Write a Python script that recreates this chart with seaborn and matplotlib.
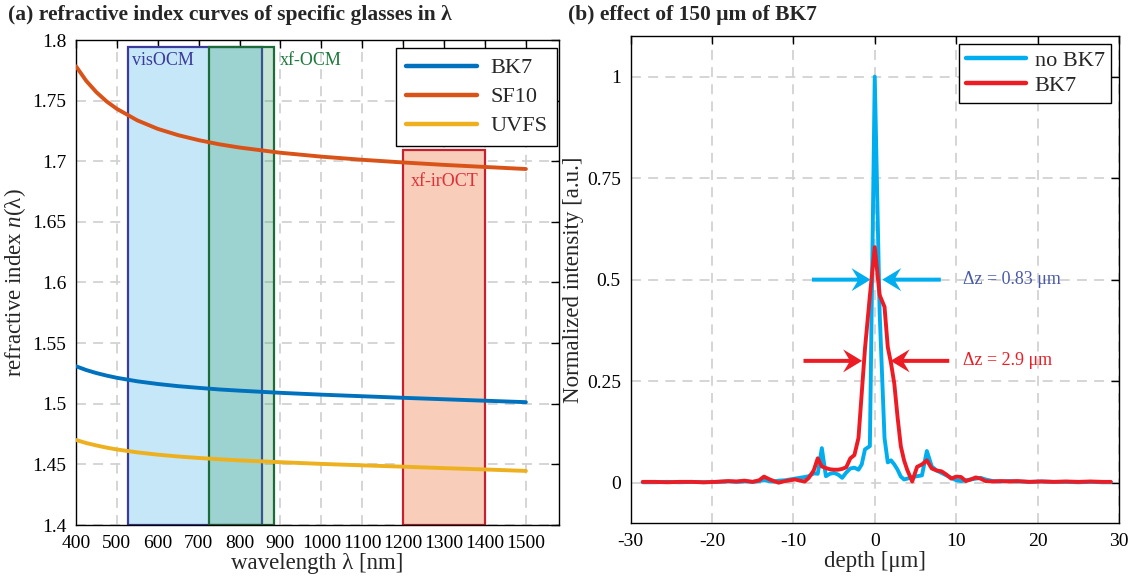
import numpy as np
import pandas as pd
import matplotlib
matplotlib.use("Agg")
import matplotlib.pyplot as plt
import seaborn as sns
from matplotlib.patches import Rectangle, FancyArrow
from matplotlib.transforms import ScaledTranslation
from matplotlib.lines import Line2D

# ---------------- data: refractive index vs wavelength ----------------
wavelength_nm = [400, 425, 450, 475, 500, 550, 600, 650, 700, 750, 800,
                 900, 1000, 1100, 1200, 1300, 1400, 1500]
n_bk7 = [1.5309, 1.5278, 1.5253, 1.5232, 1.5214, 1.5185, 1.5163, 1.5145,
         1.5131, 1.5118, 1.5108, 1.5090, 1.5075, 1.5062, 1.5049, 1.5037,
         1.5025, 1.5013]
n_sf10 = [1.7783, 1.7663, 1.7569, 1.7493, 1.7432, 1.7337, 1.7267, 1.7215,
          1.7174, 1.7140, 1.7113, 1.7070, 1.7038, 1.7012, 1.6990, 1.6970,
          1.6953, 1.6936]
n_uvfs = [1.4701, 1.4676, 1.4656, 1.4638, 1.4623, 1.4599, 1.4580, 1.4565,
          1.4553, 1.4542, 1.4533, 1.4518, 1.4504, 1.4492, 1.4481, 1.4469,
          1.4458, 1.4446]

# spectral bands of the imaging systems (nm) and their heights
band_names = ["visOCM", "xf-OCM", "xf-irOCT"]
band_start = [526, 724, 1200]
band_stop = [854, 885, 1400]
band_top = [1.794, 1.794, 1.709]

# ---------------- data: axial point spread functions ----------------
depth_um = [-28.5, -27, -25.5, -24, -22.5, -21, -19.5, -18, -17, -16, -15,
            -14.2, -13.6, -13, -12.4, -11.8, -11, -10.4, -9.8, -9.2, -8.6,
            -8.1, -7.5, -7.0, -6.5, -6.0, -5.5, -5.0, -4.5, -4.0, -3.5,
            -3.0, -2.5, -2.0, -1.6, -1.2, -0.6, 0.0, 0.6, 1.2, 1.6, 2.0,
            2.4, 2.8, 3.2, 3.6, 4.0, 4.6, 5.2, 5.8, 6.4, 7.0, 7.6, 8.2,
            8.8, 9.4, 10.0, 10.6, 11.2, 11.8, 12.4, 13.0, 13.6, 14.5, 15.5,
            16.5, 17.5, 19, 20.5, 22, 23.5, 25, 26.5, 28, 29]
psf_no_bk7 = [0.001, 0.001, 0.002, 0.001, 0.002, 0.001, 0.002, 0.003, 0.002,
              0.003, 0.002, 0.004, 0.006, 0.004, 0.003, 0.005, 0.006, 0.008,
              0.010, 0.012, 0.014, 0.016, 0.023, 0.022, 0.085, 0.016, 0.022,
              0.024, 0.020, 0.012, 0.025, 0.035, 0.037, 0.032, 0.045, 0.082,
              0.090, 1.000, 0.420, 0.110, 0.050, 0.055, 0.045, 0.032, 0.015,
              0.008, 0.010, 0.014, 0.016, 0.018, 0.078, 0.040, 0.030, 0.024,
              0.018, 0.012, 0.006, 0.004, 0.006, 0.008, 0.010, 0.012, 0.008,
              0.004, 0.003, 0.004, 0.003, 0.002, 0.003, 0.002, 0.002, 0.001,
              0.002, 0.001, 0.001]
psf_bk7 = [0.002, 0.002, 0.001, 0.002, 0.002, 0.001, 0.002, 0.004, 0.003,
           0.005, 0.002, 0.006, 0.015, 0.009, 0.004, 0.000, 0.004, 0.006,
           0.008, 0.005, 0.003, 0.012, 0.030, 0.060, 0.040, 0.036, 0.033,
           0.032, 0.032, 0.034, 0.038, 0.060, 0.068, 0.110, 0.220, 0.330,
           0.460, 0.580, 0.462, 0.433, 0.334, 0.294, 0.244, 0.162, 0.090,
           0.055, 0.031, 0.003, 0.039, 0.045, 0.055, 0.035, 0.030, 0.028,
           0.020, 0.010, 0.015, 0.014, 0.004, 0.008, 0.013, 0.010, 0.004,
           0.003, 0.004, 0.003, 0.004, 0.002, 0.003, 0.002, 0.003, 0.002,
           0.003, 0.002, 0.002]

# axial resolutions (FWHM, um) and the level at which each is marked
fwhm_labels = ["Δz = 0.83 μm", "Δz = 2.9 μm"]
fwhm_um = [0.83, 2.9]
fwhm_level = [0.5, 0.3]

# ---------------- style ----------------
sns.set_theme(style="white")
plt.rcParams["font.family"] = ["Liberation Serif", "DejaVu Serif"]
plt.rcParams["mathtext.fontset"] = "custom"
plt.rcParams["mathtext.rm"] = "Liberation Serif"
plt.rcParams["mathtext.it"] = "Liberation Serif:italic"
plt.rcParams["axes.edgecolor"] = "black"
plt.rcParams["axes.linewidth"] = 1.0
plt.rcParams["axes.unicode_minus"] = False

c_bk7, c_sf10, c_uvfs = "#0072BD", "#D95319", "#EDB120"
c_cyan, c_red = "#00AEEF", "#ED1C24"
grid_kw = dict(color="#d2d2d2", linestyle=(0, (5.5, 4)), linewidth=1.3)

fig = plt.figure(figsize=(11.31, 5.81), dpi=100)
axL = fig.add_axes([76 / 1131, 56 / 581, 482.6 / 1131, 485 / 581])
axR = fig.add_axes([630.5 / 1131, 57.7 / 581, 488.5 / 1131, 487.3 / 581])

for ax in (axL, axR):
    ax.set_axisbelow(True)
    ax.grid(True, **grid_kw)
    ax.tick_params(direction="in", length=6, width=1, top=True, right=True,
                   labelsize=14, colors="black", pad=7)

# ---------- panel (a) ----------
df_n = pd.DataFrame({"wavelength": wavelength_nm * 3,
                     "n": n_bk7 + n_sf10 + n_uvfs,
                     "glass": ["BK7"] * len(wavelength_nm)
                     + ["SF10"] * len(wavelength_nm)
                     + ["UVFS"] * len(wavelength_nm)})

band_face = ["#c6e7f8", (0.18, 0.62, 0.42, 0.27), "#f8cdb9"]
band_edge = ["#3b3b9b", "#1e6b3a", "#c8202f"]
band_text = ["#3b3b9b", "#1e7a3c", "#e0303a"]
for i, name in enumerate(band_names):
    axL.add_patch(Rectangle((band_start[i], 1.4), band_stop[i] - band_start[i],
                            band_top[i] - 1.4, facecolor=band_face[i],
                            edgecolor=band_edge[i], linewidth=1.6, zorder=1))
axL.text(band_start[0] + 10, 1.783, band_names[0], color=band_text[0],
         fontsize=13, va="center", ha="left", zorder=5)
axL.text(band_stop[1] + 14, 1.783, band_names[1], color=band_text[1],
         fontsize=13, va="center", ha="left", zorder=5)
axL.text(band_start[2] + 18, 1.683, band_names[2], color=band_text[2],
         fontsize=13, va="center", ha="left", zorder=5)

sns.lineplot(data=df_n, x="wavelength", y="n", hue="glass",
             palette=[c_bk7, c_sf10, c_uvfs], linewidth=2.8, ax=axL,
             legend=False, zorder=4)

axL.set_xlim(400, 1580)
axL.set_ylim(1.4, 1.8)
axL.set_xticks(np.arange(400, 1501, 100))
yt = [1.4, 1.45, 1.5, 1.55, 1.6, 1.65, 1.7, 1.75, 1.8]
axL.set_yticks(yt)
axL.set_yticklabels(["1.4", "1.45", "1.5", "1.55", "1.6", "1.65", "1.7",
                     "1.75", "1.8"])
axL.set_xlabel("wavelength λ [nm]", fontsize=16.5, labelpad=1)
axL.set_ylabel("refractive index $n$(λ)", fontsize=16.5, labelpad=3)

legL = axL.legend(handles=[Line2D([], [], color=c, lw=3.2) for c in
                           (c_bk7, c_sf10, c_uvfs)],
                  labels=["BK7", "SF10", "UVFS"], loc="upper right",
                  bbox_to_anchor=(0.997, 0.984), borderaxespad=0,
                  fontsize=16, handlelength=3.2, labelspacing=0.38,
                  fancybox=False, framealpha=1, edgecolor="black",
                  borderpad=0.45, handletextpad=0.6)
legL.get_frame().set_linewidth(1.0)
legL.set_zorder(10)

# ---------- panel (b) ----------
df_psf = pd.DataFrame({"depth": depth_um * 2,
                       "intensity": psf_no_bk7 + psf_bk7,
                       "sample": ["no BK7"] * len(depth_um)
                       + ["BK7"] * len(depth_um)})
sns.lineplot(data=df_psf, x="depth", y="intensity", hue="sample",
             palette=[c_cyan, c_red], linewidth=2.8, ax=axR, legend=False,
             zorder=4)

axR.set_xlim(-30, 30)
axR.set_ylim(-0.1, 1.1)
axR.set_xticks(np.arange(-30, 31, 10))
axR.set_yticks([0, 0.25, 0.5, 0.75, 1])
axR.set_yticklabels(["0", "0.25", "0.5", "0.75", "1"])
axR.set_xlabel("depth [μm]", fontsize=16.5, labelpad=1)
axR.set_ylabel("Normalized intensity [a.u.]", fontsize=16.5, labelpad=2)

legR = axR.legend(handles=[Line2D([], [], color=c, lw=3.2) for c in
                           (c_cyan, c_red)],
                  labels=["no BK7", "BK7"], loc="upper right",
                  bbox_to_anchor=(0.984, 0.984), borderaxespad=0,
                  fontsize=16, handlelength=2.7, labelspacing=0.2,
                  fancybox=False, framealpha=1, edgecolor="black",
                  borderpad=0.3, handletextpad=0.4)
legR.get_frame().set_linewidth(1.0)
legR.set_zorder(10)

# FWHM markers: two inward-pointing arrows around the peak
peak_center = 0.2
arrow_gap = 0.3      # clearance between arrow tip and half-maximum point
arrow_len = 7.2      # arrow length in um
arrow_colors = [c_cyan, c_red]
text_colors = ["#4a5aa8", c_red]
px_per_um = 488.5 / 60.0
for i, w in enumerate(fwhm_um):
    half = w / 2 + arrow_gap
    y = fwhm_level[i]
    for side in (-1, 1):
        tip = peak_center + side * half
        trans = fig.dpi_scale_trans + ScaledTranslation(tip, y, axR.transData)
        L = arrow_len * px_per_um / fig.dpi
        arr = FancyArrow(side * L, 0, -side * L, 0, width=0.04,
                         head_width=0.23, head_length=0.19, overhang=0.3,
                         length_includes_head=True, transform=trans,
                         color=arrow_colors[i], linewidth=0, zorder=6)
        axR.add_artist(arr)
    axR.text(10.8, y, fwhm_labels[i], color=text_colors[i], fontsize=13,
             va="center", ha="left", zorder=6)

# panel titles
fig.text(8 / 1131, 1 - 15 / 581,
         "(a) refractive index curves of specific glasses in λ",
         fontsize=15.5, fontweight="bold", va="center", ha="left")
fig.text(568 / 1131, 1 - 15 / 581, "(b) effect of 150 μm of BK7",
         fontsize=15.5, fontweight="bold", va="center", ha="left")

fig.savefig("out.png", dpi=100)
